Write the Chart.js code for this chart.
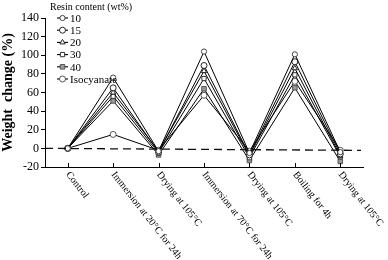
<!DOCTYPE html>
<html>
<head>
<meta charset="utf-8">
<script src="https://cdn.jsdelivr.net/npm/chart.js@4"></script>
<style>
  html, body { margin: 0; padding: 0; background: #fff; }
  #wrap { width: 388px; height: 260px; }
</style>
</head>
<body>
<div id="wrap"><canvas id="weightChart"></canvas></div>
<script>
// categorías del eje x
const steps = ['Control', 'Immersion at 20\u00b0C for 24h', 'Drying at 105\u00b0C',
  'Immersion at 70\u00b0C for 24h', 'Drying at 105\u00b0C', 'Boiling for 4h', 'Drying at 105\u00b0C'];

// series (cambio de peso, %)
const resin10 = [0, 76, -3, 104, -5, 101, -4];
const resin15 = [0, 65, -4, 89, -7, 93, -6];
const resin20 = [0, 60, -3, 83, -8, 86, -8];
const resin30 = [0, 56, -5, 75, -10, 79, -9];
const resin40 = [0, 51, -7, 64, -13, 65, -14];
const isocyanate = [0, 15, -2, 57, -3, 72, -2];

const seriesNames = ['10', '15', '20', '30', '40', 'Isocyanate'];
const yTicks = [-20, 0, 20, 40, 60, 80, 100, 120, 140];

const serif = "'Liberation Serif', 'DejaVu Serif', serif";

function makeSet(label, data, style, fill, stroke, radius) {
    return {
        label: label,
        data: data,
        borderColor: '#000',
        borderWidth: 1,
        pointStyle: style,
        pointRadius: radius,
        pointBackgroundColor: fill,
        pointBorderColor: stroke,
        pointBorderWidth: 1,
        tension: 0
    };
}

// línea discontinua en cero, etiquetas giradas y leyenda
const extras = {
    id: 'extras',
    afterDatasetsDraw(chart) {
        const ctx = chart.ctx;
        const area = chart.chartArea;
        const x = chart.scales.x;
        const y = chart.scales.y;

        ctx.save();
        // línea en 0
        const y0 = y.getPixelForValue(0);
        ctx.strokeStyle = '#111';
        ctx.lineWidth = 1.3;
        ctx.setLineDash([8, 5]);
        ctx.beginPath();
        ctx.moveTo(area.left, y0);
        ctx.lineTo(area.right - 2, y0 + 2);
        ctx.stroke();
        ctx.setLineDash([]);

        // marcas del eje x hacia dentro
        ctx.lineWidth = 1;
        ctx.strokeStyle = '#000';
        steps.forEach((s, i) => {
            const px = Math.round(x.getPixelForValue(i)) + 0.5;
            ctx.beginPath();
            ctx.moveTo(px, area.bottom);
            ctx.lineTo(px, area.bottom - 4);
            ctx.stroke();
        });

        // etiquetas giradas
        ctx.fillStyle = '#000';
        ctx.font = '10px ' + serif;
        ctx.textAlign = 'left';
        ctx.textBaseline = 'middle';
        steps.forEach((s, i) => {
            const px = x.getPixelForValue(i);
            ctx.save();
            ctx.translate(px, area.bottom + 6);
            ctx.rotate(52 * Math.PI / 180);
            ctx.fillText(s, 0, 0);
            ctx.restore();
        });

        // leyenda
        ctx.font = '10px ' + serif;
        ctx.textBaseline = 'top';
        ctx.fillText('Resin content (wt%)', 50, 2);
        ctx.font = '11px ' + serif;
        ctx.textBaseline = 'middle';
        chart.data.datasets.forEach((ds, i) => {
            const ly = 18 + i * 12.2;
            ctx.strokeStyle = '#000';
            ctx.lineWidth = 1.1;
            ctx.beginPath();
            ctx.moveTo(57, ly);
            ctx.lineTo(68, ly);
            ctx.stroke();
            ctx.fillStyle = ds.pointBackgroundColor;
            ctx.strokeStyle = ds.pointBorderColor;
            ctx.lineWidth = 1;
            Chart.helpers.drawPoint(ctx, {
                pointStyle: ds.pointStyle,
                radius: ds.pointRadius,
                borderWidth: 1
            }, 62.5, ly);
            ctx.fillStyle = '#000';
            ctx.fillText(ds.label, 70, ly + 1);
        });
        ctx.restore();
    }
};

new Chart(document.getElementById('weightChart'), {
    type: 'line',
    data: {
        labels: steps,
        datasets: [
            makeSet(seriesNames[0], resin10, 'circle', '#fff', '#444', 2.6),
            makeSet(seriesNames[1], resin15, 'circle', '#fff', '#222', 3),
            makeSet(seriesNames[2], resin20, 'triangle', '#fff', '#222', 3),
            makeSet(seriesNames[3], resin30, 'rect', '#fff', '#333', 3),
            makeSet(seriesNames[4], resin40, 'rect', '#999', '#555', 3.2),
            makeSet(seriesNames[5], isocyanate, 'circle', '#fff', '#555', 3)
        ]
    },
    options: {
        responsive: true,
        maintainAspectRatio: false,
        animation: false,
        layout: { padding: { left: 0, right: 25, top: 18, bottom: 0 } },
        plugins: {
            legend: { display: false },
            tooltip: { enabled: false }
        },
        scales: {
            x: {
                type: 'category',
                offset: true,
                grid: { display: false },
                border: { color: '#000', width: 1 },
                ticks: { display: false },
                afterFit(scale) { scale.height = 93; }
            },
            y: {
                min: -20,
                max: 140,
                afterBuildTicks(scale) { scale.ticks = yTicks.map(v => ({ value: v })); },
                afterFit(scale) { scale.width = 45; },
                grid: { drawOnChartArea: false, drawTicks: true, tickLength: 4, color: '#000' },
                border: { color: '#000', width: 1 },
                ticks: {
                    color: '#000',
                    padding: 2,
                    font: { family: serif, size: 12 }
                },
                title: {
                    display: true,
                    text: 'Weight  change (%)',
                    color: '#000',
                    padding: { top: 0, bottom: 2 },
                    font: { family: serif, size: 14, weight: 'bold' }
                }
            }
        }
    },
    plugins: [extras]
});
</script>
</body>
</html>
